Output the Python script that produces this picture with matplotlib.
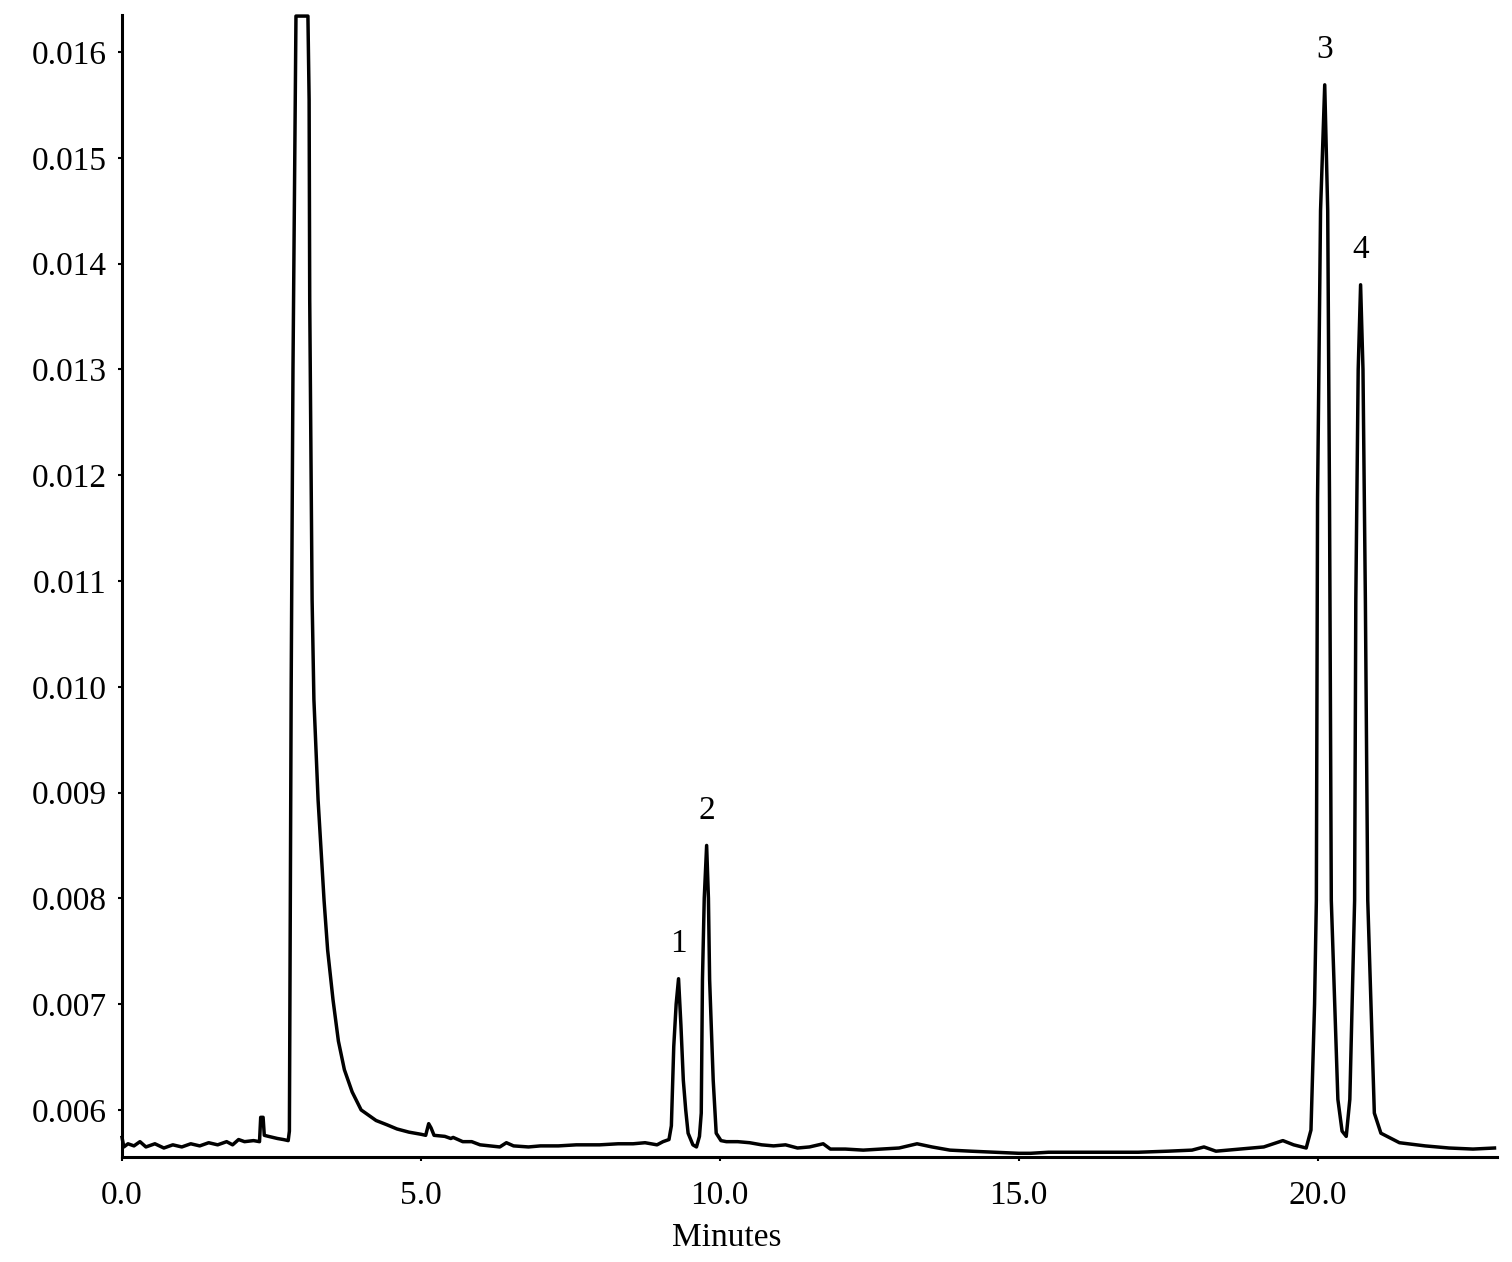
import numpy as np
import matplotlib
matplotlib.use("Agg")
import matplotlib.pyplot as plt

# Chromatogram trace (minutes, absorbance)
time_min = [
    0.00, 0.03, 0.10, 0.20, 0.30, 0.40, 0.55, 0.70, 0.85, 1.00, 1.15, 1.30, 1.45, 1.60,
    1.75, 1.85, 1.95, 2.05, 2.20, 2.30, 2.32, 2.36, 2.38, 2.45, 2.60, 2.70, 2.78, 2.80,
    2.83, 2.86, 2.91, 3.11, 3.13, 3.14, 3.18, 3.21, 3.28, 3.38, 3.44, 3.53, 3.62, 3.72,
    3.85, 4.00, 4.10, 4.25, 4.43, 4.60, 4.80, 5.00, 5.08, 5.13, 5.17, 5.22, 5.40, 5.50,
    5.54, 5.70, 5.85, 5.99, 6.15, 6.32, 6.43, 6.55, 6.80, 7.00, 7.30, 7.60, 7.99, 8.30,
    8.55, 8.75, 8.95, 9.05, 9.15, 9.19, 9.23, 9.27, 9.31, 9.35, 9.39, 9.43, 9.47, 9.55,
    9.61, 9.66, 9.69, 9.71, 9.74, 9.78, 9.81, 9.83, 9.89, 9.94, 10.02, 10.11, 10.30,
    10.50, 10.70, 10.90, 11.10, 11.30, 11.50, 11.73, 11.85, 12.10, 12.40, 12.70, 13.00,
    13.30, 13.55, 13.85, 14.20, 14.60, 15.00, 15.20, 15.50, 16.00, 16.50, 17.00, 17.50,
    17.90, 18.10, 18.30, 18.70, 19.10, 19.42, 19.60, 19.81, 19.89, 19.95, 19.98, 20.00,
    20.05, 20.12, 20.17, 20.20, 20.23, 20.34, 20.41, 20.48, 20.54, 20.62, 20.64, 20.68,
    20.72, 20.76, 20.80, 20.84, 20.95, 21.06, 21.37, 21.80, 22.20, 22.60, 22.96,
]
absorbance = [
    0.00574, 0.00565, 0.00568, 0.00566, 0.00570, 0.00565, 0.00568, 0.00564, 0.00567,
    0.00565, 0.00568, 0.00566, 0.00569, 0.00567, 0.00570, 0.00567, 0.00572, 0.00570,
    0.00571, 0.00570, 0.00593, 0.00593, 0.00576, 0.00575, 0.00573, 0.00572, 0.00571,
    0.00580, 0.01000, 0.01300, 0.01634, 0.01634, 0.01555, 0.01366, 0.01082, 0.00988,
    0.00893, 0.00798, 0.00751, 0.00704, 0.00665, 0.00638, 0.00617, 0.00600, 0.00596,
    0.00590, 0.00586, 0.00582, 0.00579, 0.00577, 0.00576, 0.00587, 0.00583, 0.00576,
    0.00575, 0.00573, 0.00574, 0.00570, 0.00570, 0.00567, 0.00566, 0.00565, 0.00569,
    0.00566, 0.00565, 0.00566, 0.00566, 0.00567, 0.00567, 0.00568, 0.00568, 0.00569,
    0.00567, 0.00570, 0.00572, 0.00585, 0.00660, 0.00700, 0.00724, 0.00680, 0.00628,
    0.00600, 0.00578, 0.00567, 0.00565, 0.00575, 0.00597, 0.00723, 0.00800, 0.00850,
    0.00800, 0.00723, 0.00628, 0.00578, 0.00571, 0.00570, 0.00570, 0.00569, 0.00567,
    0.00566, 0.00567, 0.00564, 0.00565, 0.00568, 0.00563, 0.00563, 0.00562, 0.00563,
    0.00564, 0.00568, 0.00565, 0.00562, 0.00561, 0.00560, 0.00559, 0.00559, 0.00560,
    0.00560, 0.00560, 0.00560, 0.00561, 0.00562, 0.00565, 0.00561, 0.00563, 0.00565,
    0.00571, 0.00567, 0.00564, 0.00581, 0.00700, 0.00798, 0.01177, 0.01450, 0.01569,
    0.01450, 0.01177, 0.00798, 0.00610, 0.00580, 0.00575, 0.00610, 0.00798, 0.01082,
    0.01300, 0.01380, 0.01300, 0.01082, 0.00798, 0.00597, 0.00578, 0.00569, 0.00566,
    0.00564, 0.00563, 0.00564,
]

peak_labels = ["1", "2", "3", "4"]
peak_times = [9.31, 9.78, 20.12, 20.72]

x_ticks = [0.0, 5.0, 10.0, 15.0, 20.0]
y_ticks = [0.006, 0.007, 0.008, 0.009, 0.010, 0.011, 0.012, 0.013, 0.014, 0.015, 0.016]

plt.rcParams['font.family'] = ['Liberation Serif', 'DejaVu Serif']

fig = plt.figure(figsize=(15.12, 12.62), dpi=100)
ax = fig.add_axes([0.0807, 0.0832, 0.9093, 0.9049])

t = np.array(time_min)
a = np.array(absorbance)
ax.plot(t, a, color='black', linewidth=2.5, solid_joinstyle='round', clip_on=False)

ax.set_xlim(0, 23.0)
ax.set_ylim(0.005555, 0.01635)

ax.set_xticks(x_ticks)
ax.set_xticklabels([f"{v:.1f}" for v in x_ticks])
ax.set_yticks(y_ticks)
ax.set_yticklabels([f"{v:.3f}" for v in y_ticks])

for side in ['top', 'right']:
    ax.spines[side].set_visible(False)
for side in ['left', 'bottom']:
    ax.spines[side].set_linewidth(2.2)
    ax.spines[side].set_color('black')

ax.tick_params(axis='both', direction='out', length=3, width=1.5, labelsize=24,
               colors='black')
ax.tick_params(axis='y', pad=8)
ax.tick_params(axis='x', pad=14)

ax.set_xlabel("Minutes", fontsize=24)
ax.xaxis.set_label_coords(0.44, -0.057)

for lab, pt in zip(peak_labels, peak_times):
    idx = np.argmin(np.abs(t - pt))
    ax.annotate(lab, xy=(t[idx], a[idx]), xytext=(0, 25), textcoords='offset points',
                ha='center', va='center', fontsize=24)

fig.savefig("out.png", dpi=100, facecolor='white')
